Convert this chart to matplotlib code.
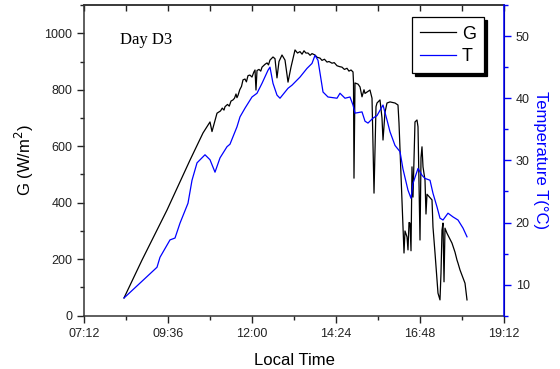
from matplotlib import pyplot as plt
from matplotlib.ticker import MultipleLocator, FuncFormatter

plt.rcParams['font.family'] = ['Liberation Sans', 'DejaVu Sans']

# irradiance G (W/m2): (local time in decimal hours, value)
g_data = [(8.343, 63), (8.857, 197), (9.571, 374), (10.229, 551), (10.6, 647),
          (10.8, 686), (10.857, 652), (10.886, 665), (11.0, 717), (11.1, 725),
          (11.15, 735), (11.2, 728), (11.229, 740), (11.3, 748), (11.35, 742),
          (11.4, 760), (11.457, 764), (11.5, 770), (11.543, 785), (11.57, 772),
          (11.6, 780), (11.65, 800), (11.7, 812), (11.743, 835), (11.8, 838),
          (11.84, 828), (11.886, 850), (11.94, 852), (12.0, 845), (12.05, 862),
          (12.086, 870), (12.114, 799), (12.143, 868), (12.2, 872), (12.25, 866),
          (12.286, 880), (12.33, 885), (12.371, 890), (12.43, 895), (12.47, 888),
          (12.514, 905), (12.6, 916), (12.657, 910), (12.714, 842), (12.771, 900),
          (12.857, 923), (12.943, 905), (13.029, 827), (13.114, 880), (13.229, 941),
          (13.3, 930), (13.371, 935), (13.43, 926), (13.486, 938), (13.54, 930),
          (13.6, 930), (13.66, 922), (13.714, 928), (13.8, 923), (13.86, 915),
          (13.943, 912), (14.0, 904), (14.07, 908), (14.143, 898), (14.2, 900),
          (14.286, 894), (14.35, 896), (14.429, 885), (14.5, 882), (14.571, 880),
          (14.64, 872), (14.714, 876), (14.77, 866), (14.829, 870), (14.886, 863),
          (14.9, 827), (14.914, 487), (14.943, 824), (15.029, 820), (15.086, 810),
          (15.143, 775), (15.2, 800), (15.229, 787), (15.371, 799), (15.429, 770),
          (15.486, 434), (15.543, 740), (15.571, 753), (15.657, 764), (15.714, 700),
          (15.743, 622), (15.8, 720), (15.857, 753), (15.943, 757), (16.086, 753),
          (16.171, 746), (16.2, 682), (16.229, 587), (16.286, 410), (16.343, 222),
          (16.371, 300), (16.429, 279), (16.457, 233), (16.486, 330), (16.514, 328),
          (16.543, 230), (16.571, 527), (16.6, 420), (16.657, 686), (16.714, 693),
          (16.743, 669), (16.8, 268), (16.829, 560), (16.857, 598), (16.886, 527),
          (16.943, 480), (16.971, 360), (17.0, 430), (17.143, 410), (17.171, 314),
          (17.229, 222), (17.314, 80), (17.371, 56), (17.4, 151), (17.429, 303),
          (17.457, 328), (17.486, 120), (17.514, 310), (17.571, 292), (17.714, 257),
          (17.8, 225), (17.857, 197), (17.886, 186), (17.943, 162), (18.086, 115),
          (18.143, 56)]

# module temperature T (degC): (local time in decimal hours, value)
t_data = [(8.343, 7.85), (8.886, 10.7), (9.286, 12.8), (9.371, 14.4), (9.657, 17.2),
          (9.8, 17.5), (9.943, 19.9), (10.171, 23.1), (10.286, 26.8), (10.429, 29.6),
          (10.657, 30.9), (10.8, 30.1), (10.943, 28.1), (11.086, 30.4), (11.286, 32.2),
          (11.371, 32.6), (11.571, 35.4), (11.657, 37.0), (11.8, 38.4), (12.0, 40.2),
          (12.143, 40.8), (12.286, 42.4), (12.457, 44.5), (12.514, 45.0), (12.6, 42.4),
          (12.714, 40.5), (12.8, 40.0), (12.943, 41.0), (13.029, 41.6), (13.143, 42.1),
          (13.371, 43.4), (13.571, 44.8), (13.714, 45.6), (13.8, 46.9), (13.886, 46.1),
          (14.029, 41.0), (14.171, 40.2), (14.429, 40.0), (14.514, 40.8), (14.657, 40.0),
          (14.8, 40.2), (14.886, 38.9), (14.943, 37.6), (15.143, 37.8), (15.229, 36.3),
          (15.314, 36.0), (15.457, 36.8), (15.571, 37.2), (15.743, 38.9), (15.857, 36.5),
          (15.943, 34.6), (16.086, 32.4), (16.229, 31.4), (16.314, 28.6), (16.457, 25.2),
          (16.543, 23.9), (16.6, 26.3), (16.743, 28.7), (16.857, 27.6), (16.943, 27.1),
          (17.086, 26.8), (17.171, 24.7), (17.286, 22.5), (17.371, 20.7), (17.457, 20.4),
          (17.6, 21.5), (17.743, 20.9), (17.886, 20.4), (18.029, 19.1), (18.143, 17.7)]

g_time, g_vals = zip(*g_data)
t_time, t_vals = zip(*t_data)


def hhmm(x, pos):
    total = int(round(x * 60))
    return '%02d:%02d' % (total // 60, total % 60)


fig = plt.figure(figsize=(5.6, 3.69), dpi=100)
ax = fig.add_axes([0.15, 0.1444, 0.75, 0.842])
ax2 = ax.twinx()

lg, = ax.plot(g_time, g_vals, color='black', lw=0.9, label='G')
lt, = ax2.plot(t_time, t_vals, color='blue', lw=0.9, label='T')

ax.set_xlim(7.2, 19.2)
ax.set_ylim(0, 1100)
ax2.set_ylim(5, 55)

ax.xaxis.set_major_locator(MultipleLocator(2.4))
ax.xaxis.set_minor_locator(MultipleLocator(1.2))
ax.xaxis.set_major_formatter(FuncFormatter(hhmm))
ax.yaxis.set_major_locator(MultipleLocator(200))
ax.yaxis.set_minor_locator(MultipleLocator(100))
ax2.yaxis.set_major_locator(MultipleLocator(10))
ax2.yaxis.set_minor_locator(MultipleLocator(5))

ax.tick_params(axis='both', which='both', direction='out', labelsize=9,
               colors='#222222', width=1)
ax.tick_params(which='major', length=5)
ax.tick_params(which='minor', length=3)
ax2.tick_params(axis='y', which='both', direction='out', labelsize=9,
                color='blue', labelcolor='#222222', width=1)
ax2.tick_params(which='major', length=5)
ax2.tick_params(which='minor', length=3)

# top axis: ticks pointing inward, no labels
top = ax.secondary_xaxis('top')
top.xaxis.set_major_locator(MultipleLocator(1.2))
top.tick_params(direction='in', length=4, width=1, color='#222222', labeltop=False)
top.spines['top'].set_color('#333333')
top.spines['top'].set_linewidth(1.1)

for s in ['left', 'bottom', 'top']:
    ax.spines[s].set_color('#333333')
    ax.spines[s].set_linewidth(1.1)
ax2.spines['right'].set_color('blue')
ax2.spines['right'].set_linewidth(1.1)
for s in ['left', 'bottom', 'top']:
    ax2.spines[s].set_visible(False)

ax.set_xlabel('Local Time', fontsize=12, labelpad=10)
ax.set_ylabel('G (W/m$^2$)', fontsize=12, labelpad=6)
ax2.set_ylabel('Temperature T(\u00b0C)', fontsize=12, color='blue',
               rotation=270, labelpad=13)

ax.text(0.085, 0.875, 'Day D3', transform=ax.transAxes, fontsize=12,
        family='Liberation Serif')

leg = ax.legend(handles=[lg, lt], loc='upper right', bbox_to_anchor=(0.952, 0.96),
                fontsize=13, frameon=True, fancybox=False, handlelength=2.0,
                handletextpad=0.3, borderpad=0.45, labelspacing=0.3,
                borderaxespad=0, shadow={'shade': 1.0, 'alpha': 1.0})
leg.get_frame().set_edgecolor('black')
leg.get_frame().set_linewidth(0.9)
leg.set_zorder(5)

fig.savefig('out.png', dpi=100)
